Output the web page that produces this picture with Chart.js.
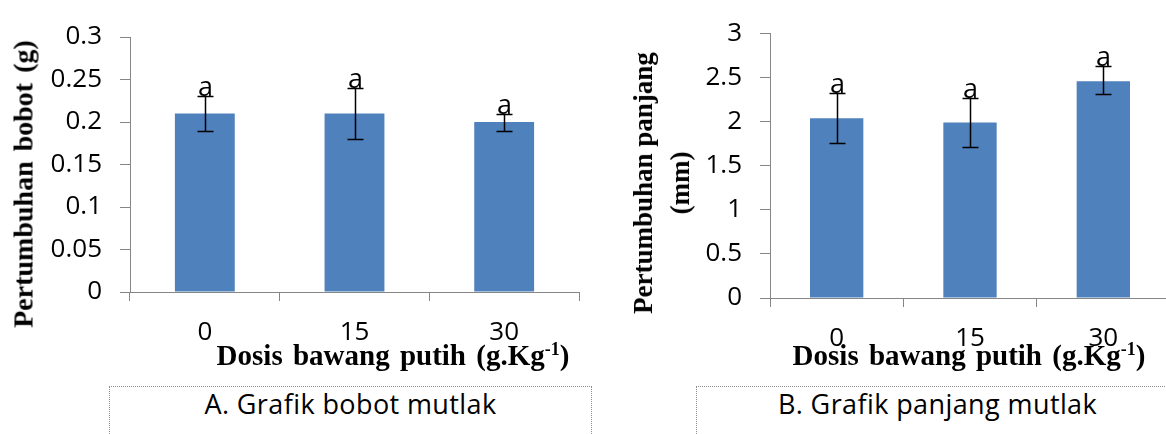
<!DOCTYPE html>
<html>
<head>
<meta charset="utf-8">
<title>Pertumbuhan bobot dan panjang</title>
<script src="https://cdn.jsdelivr.net/npm/chart.js@4.4.1/dist/chart.umd.min.js"></script>
<style>
  body {
    margin: 0;
    width: 1166px;
    height: 434px;
    overflow: hidden;
    position: relative;
    background: #fff;
    font-family: "Open Sans", sans-serif;
  }
  .plot { position: absolute; top: 0; }
  #chartA { left: 0; }
  #chartB { left: 600px; }
  .ytitle, .xtitle {
    position: absolute;
    font-family: "Liberation Serif", "Times New Roman", serif;
    font-weight: bold;
    font-size: 27px;
    line-height: 37px;
    color: #000;
    white-space: nowrap;
  }
  .ytitle { text-align: center; transform: translate(-50%, -50%) rotate(-90deg); }
  .xtitle { transform: translateX(-50%); font-size: 29px; word-spacing: 3px; }
  .xtitle sup { font-size: 18px; line-height: 0; vertical-align: 10px; word-spacing: 0; }
  .caption {
    position: absolute;
    top: 386px;
    width: 483px;
    height: 80px;
    box-sizing: border-box;
    border: 1px dotted #8c8c8c;
    text-align: center;
    font-size: 27px;
    letter-spacing: 0.4px;
    line-height: 33px;
    color: #000;
  }
</style>
</head>
<body>
<canvas id="chartA" class="plot" width="600" height="380"></canvas>
<canvas id="chartB" class="plot" width="580" height="380"></canvas>

<div class="ytitle" style="left:23px; top:184px; font-size:28px; word-spacing:3px;">Pertumbuhan bobot (g)</div>
<div class="ytitle" style="left:662px; top:183px;">Pertumbuhan panjang<br>(mm)</div>
<div class="xtitle" style="left:393px; top:337px;">Dosis bawang putih (g.Kg<sup>-1</sup>)</div>
<div class="xtitle" style="left:969px; top:337px;">Dosis bawang putih (g.Kg<sup>-1</sup>)</div>

<div class="caption" style="left:109px;">A. Grafik bobot mutlak</div>
<div class="caption" style="left:696px;">B. Grafik panjang mutlak</div>

<script>
// garlic dose groups
const doses = ['0', '15', '30'];

// weight gain (g)
const weightMean = [0.21, 0.21, 0.20];
const weightLow = [0.19, 0.18, 0.19];
const weightHigh = [0.23, 0.24, 0.21];
const weightLetters = ['a', 'a', 'a'];
const weightTicks = ['0', '0.05', '0.1', '0.15', '0.2', '0.25', '0.3'];

// length gain (mm)
const lengthMean = [2.04, 1.99, 2.46];
const lengthLow = [1.76, 1.71, 2.31];
const lengthHigh = [2.33, 2.27, 2.63];
const lengthLetters = ['a', 'a', 'a'];
const lengthTicks = ['0', '0.5', '1', '1.5', '2', '2.5', '3'];

const axisGray = '#868686';
const barBlue = '#4F81BD';
const tickFont = { family: 'Open Sans', size: 26 };

// error bars with the significance letter on top
const errorBars = {
    id: 'errorBars',
    afterDatasetsDraw(chart, args, opts) {
        const ctx = chart.ctx;
        const y = chart.scales.y;
        const bars = chart.getDatasetMeta(0).data;
        ctx.save();
        ctx.strokeStyle = '#000';
        ctx.fillStyle = '#000';
        ctx.lineWidth = 1.5;
        ctx.font = '27px "Open Sans"';
        ctx.textAlign = 'center';
        ctx.textBaseline = 'alphabetic';
        bars.forEach((bar, i) => {
            const x = Math.round(bar.x) + 0.5;
            const top = Math.round(y.getPixelForValue(opts.high[i])) + 0.5;
            const bottom = Math.round(y.getPixelForValue(opts.low[i])) + 0.5;
            ctx.beginPath();
            ctx.moveTo(x, top);
            ctx.lineTo(x, bottom);
            ctx.moveTo(x - 8, top);
            ctx.lineTo(x + 8, top);
            ctx.moveTo(x - 8, bottom);
            ctx.lineTo(x + 8, bottom);
            ctx.stroke();
            ctx.fillText(opts.letters[i], x, top - 1);
        });
        ctx.restore();
    }
};

function makeChart(id, s) {
    return new Chart(document.getElementById(id), {
        type: 'bar',
        data: {
            labels: doses,
            datasets: [{
                data: s.mean,
                backgroundColor: barBlue,
                borderWidth: 0,
                barPercentage: 0.4,
                categoryPercentage: 1
            }]
        },
        options: {
            responsive: false,
            animation: false,
            events: [],
            layout: { padding: s.padding },
            plugins: {
                legend: { display: false },
                tooltip: { enabled: false },
                errorBars: { low: s.low, high: s.high, letters: s.letters }
            },
            scales: {
                x: {
                    grid: { drawOnChartArea: false, color: axisGray, tickLength: 9 },
                    border: { color: axisGray },
                    ticks: { color: '#000', font: tickFont, padding: 16 },
                    afterFit: (scale) => { scale.height = s.xHeight; }
                },
                y: {
                    min: 0,
                    max: s.max,
                    grid: { drawOnChartArea: false, color: axisGray, tickLength: 10 },
                    border: { color: axisGray },
                    ticks: {
                        stepSize: s.step,
                        color: '#000',
                        font: tickFont,
                        padding: 18,
                        callback: (value, index) => s.ticks[index]
                    },
                    afterFit: (scale) => { scale.width = s.yWidth; }
                }
            }
        },
        plugins: [errorBars]
    });
}

makeChart('chartA', {
    mean: weightMean, low: weightLow, high: weightHigh, letters: weightLetters,
    ticks: weightTicks, max: 0.3, step: 0.05,
    padding: { top: 37, right: 21, bottom: 0, left: 0 },
    yWidth: 130, xHeight: 88
});

makeChart('chartB', {
    mean: lengthMean, low: lengthLow, high: lengthHigh, letters: lengthLetters,
    ticks: lengthTicks, max: 3, step: 0.5,
    padding: { top: 20, right: 10, bottom: 0, left: 0 },
    yWidth: 170, xHeight: 82
});
</script>
</body>
</html>
